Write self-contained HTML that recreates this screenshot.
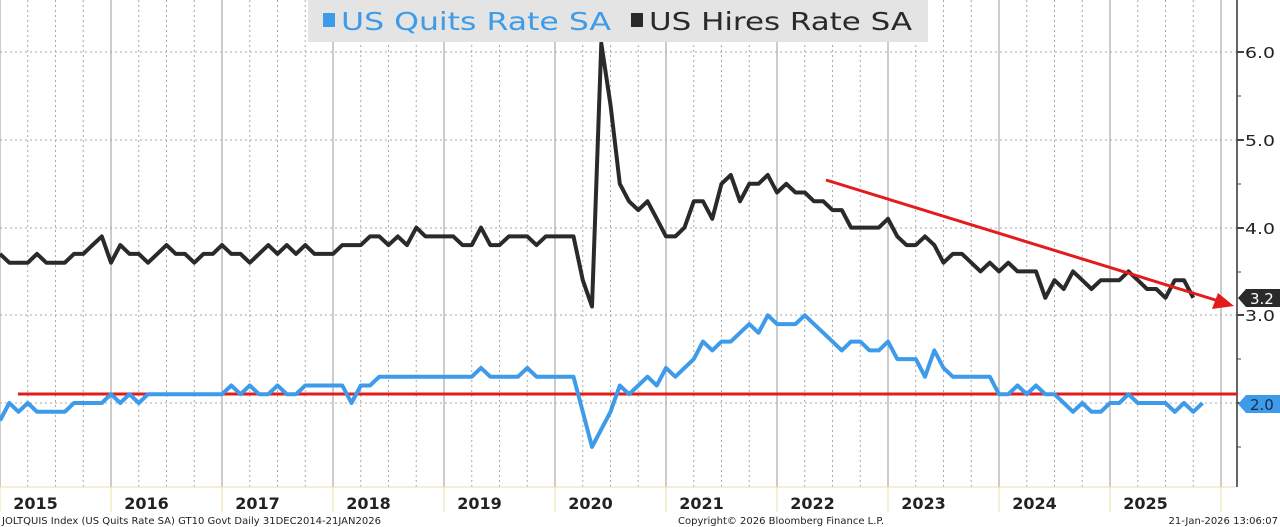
<!DOCTYPE html>
<html><head><meta charset="utf-8"><style>
body{margin:0;background:#fff;width:1280px;height:527px;overflow:hidden;font-family:"DejaVu Sans","Liberation Sans",sans-serif}
svg{display:block}
</style></head><body>
<svg id="s" width="1280" height="527" xmlns="http://www.w3.org/2000/svg">
<rect width="1280" height="527" fill="#fff"/>
<g id="grid"></g>
<line x1="0" y1="487" x2="1237" y2="487" stroke="#e8e0a0" stroke-width="1"/>
<line x1="1237" y1="0" x2="1237" y2="487" stroke="#666" stroke-width="2"/>
<g id="ticks"></g>
<line x1="18" y1="394" x2="1237" y2="394" stroke="#e21b1b" stroke-width="3"/>
<polyline id="q" fill="none" stroke="#3d9be9" stroke-width="4" stroke-linejoin="round"/>
<polyline id="h" fill="none" stroke="#2a2a2a" stroke-width="4" stroke-linejoin="round"/>
<line x1="826" y1="180" x2="1222" y2="302" stroke="#e21b1b" stroke-width="3"/>
<polygon points="1234,306 1212,309 1218,293" fill="#e21b1b"/>
<rect x="308" y="0" width="620" height="42" fill="#e4e4e4"/>
<rect x="323" y="13" width="12" height="14" fill="#3d9be9"/>
<text x="341" y="30" font-size="25" fill="#3d9be9" textLength="270" lengthAdjust="spacingAndGlyphs">US Quits Rate SA</text>
<rect x="631" y="13" width="12" height="14" fill="#2a2a2a"/>
<text x="649" y="30" font-size="25" fill="#2a2a2a" textLength="263" lengthAdjust="spacingAndGlyphs">US Hires Rate SA</text>
<g font-size="15" fill="#222">
<text x="1245" y="58" textLength="30" lengthAdjust="spacingAndGlyphs">6.0</text><text x="1245" y="146" textLength="30" lengthAdjust="spacingAndGlyphs">5.0</text><text x="1245" y="234" textLength="30" lengthAdjust="spacingAndGlyphs">4.0</text><text x="1245" y="321" textLength="30" lengthAdjust="spacingAndGlyphs">3.0</text>
</g>
<polygon points="1238,298 1246,289 1280,289 1280,307 1246,307" fill="#2a2a2a"/>
<text x="1250" y="304" font-size="15" fill="#fff">3.2</text>
<polygon points="1238,404 1246,395 1280,395 1280,413 1246,413" fill="#3d9be9"/>
<text x="1250" y="410" font-size="15" fill="#1a2a50">2.0</text>
<g id="yrs" font-size="16" font-weight="bold" fill="#222" text-anchor="middle"></g>
<text x="2" y="524" font-size="10" fill="#222">JOLTQUIS Index (US Quits Rate SA) GT10  Govt Daily 31DEC2014-21JAN2026</text>
<text x="678" y="524" font-size="10" fill="#222">Copyright© 2026 Bloomberg Finance L.P.</text>
<text x="1278" y="524" font-size="10" fill="#222" text-anchor="end">21-Jan-2026 13:06:07</text>
</svg>
<script>
var NS="http://www.w3.org/2000/svg";
function el(p,t,a){var e=document.createElementNS(NS,t);for(var k in a)e.setAttribute(k,a[k]);p.appendChild(e);return e;}
var g=document.getElementById('grid'),tk=document.getElementById('ticks'),yr=document.getElementById('yrs');
var yw=111,mw=yw/12;
for(var i=0;i<46;i++){var x=i*yw/4; if(x>1237)break;
 el(g,'line',{x1:x,y1:0,x2:x,y2:487,stroke:i%4==0?'#999':'#aaa','stroke-width':1,'stroke-dasharray':i%4==0?'':'2,3'});
 if(i%4==0) el(g,'line',{x1:x,y1:487,x2:x,y2:512,stroke:'#e8e0a0'});}
[52,140,228,315,403].forEach(function(y){el(g,'line',{x1:0,y1:y,x2:1237,y2:y,stroke:'#aaa','stroke-dasharray':'2,3'});el(tk,'line',{x1:1237,y1:y,x2:1244,y2:y,stroke:'#444','stroke-width':2});});
[96,184,272,359,447].forEach(function(y){el(tk,'line',{x1:1237,y1:y,x2:1241,y2:y,stroke:'#444'});});
for(var k=0;k<11;k++){var t=el(yr,'text',{x:k*yw+yw/2-20,y:509});t.textContent=2015+k;}
function Y(v){return 403-(v-2)*87.7;}
var H=[3.7,3.6,3.6,3.6,3.7,3.6,3.6,3.6,3.7,3.7,3.8,3.9,
3.6,3.8,3.7,3.7,3.6,3.7,3.8,3.7,3.7,3.6,3.7,3.7,
3.8,3.7,3.7,3.6,3.7,3.8,3.7,3.8,3.7,3.8,3.7,3.7,
3.7,3.8,3.8,3.8,3.9,3.9,3.8,3.9,3.8,4.0,3.9,3.9,
3.9,3.9,3.8,3.8,4.0,3.8,3.8,3.9,3.9,3.9,3.8,3.9,
3.9,3.9,3.9,3.4,3.1,6.1,5.4,4.5,4.3,4.2,4.3,4.1,
3.9,3.9,4.0,4.3,4.3,4.1,4.5,4.6,4.3,4.5,4.5,4.6,
4.4,4.5,4.4,4.4,4.3,4.3,4.2,4.2,4.0,4.0,4.0,4.0,
4.1,3.9,3.8,3.8,3.9,3.8,3.6,3.7,3.7,3.6,3.5,3.6,
3.5,3.6,3.5,3.5,3.5,3.2,3.4,3.3,3.5,3.4,3.3,3.4,
3.4,3.4,3.5,3.4,3.3,3.3,3.2,3.4,3.4,3.2];
var Q=[1.8,2.0,1.9,2.0,1.9,1.9,1.9,1.9,2.0,2.0,2.0,2.0,
2.1,2.0,2.1,2.0,2.1,2.1,2.1,2.1,2.1,2.1,2.1,2.1,
2.1,2.2,2.1,2.2,2.1,2.1,2.2,2.1,2.1,2.2,2.2,2.2,
2.2,2.2,2.0,2.2,2.2,2.3,2.3,2.3,2.3,2.3,2.3,2.3,
2.3,2.3,2.3,2.3,2.4,2.3,2.3,2.3,2.3,2.4,2.3,2.3,
2.3,2.3,2.3,1.9,1.5,1.7,1.9,2.2,2.1,2.2,2.3,2.2,
2.4,2.3,2.4,2.5,2.7,2.6,2.7,2.7,2.8,2.9,2.8,3.0,
2.9,2.9,2.9,3.0,2.9,2.8,2.7,2.6,2.7,2.7,2.6,2.6,
2.7,2.5,2.5,2.5,2.3,2.6,2.4,2.3,2.3,2.3,2.3,2.3,
2.1,2.1,2.2,2.1,2.2,2.1,2.1,2.0,1.9,2.0,1.9,1.9,
2.0,2.0,2.1,2.0,2.0,2.0,2.0,1.9,2.0,1.9,2.0];
function pts(a,off){return a.map(function(v,i){return (i*mw+off).toFixed(1)+','+Y(v).toFixed(1);}).join(' ');}
document.getElementById('h').setAttribute('points',pts(H,0));
document.getElementById('q').setAttribute('points',pts(Q,0));
</script>
</body></html>
